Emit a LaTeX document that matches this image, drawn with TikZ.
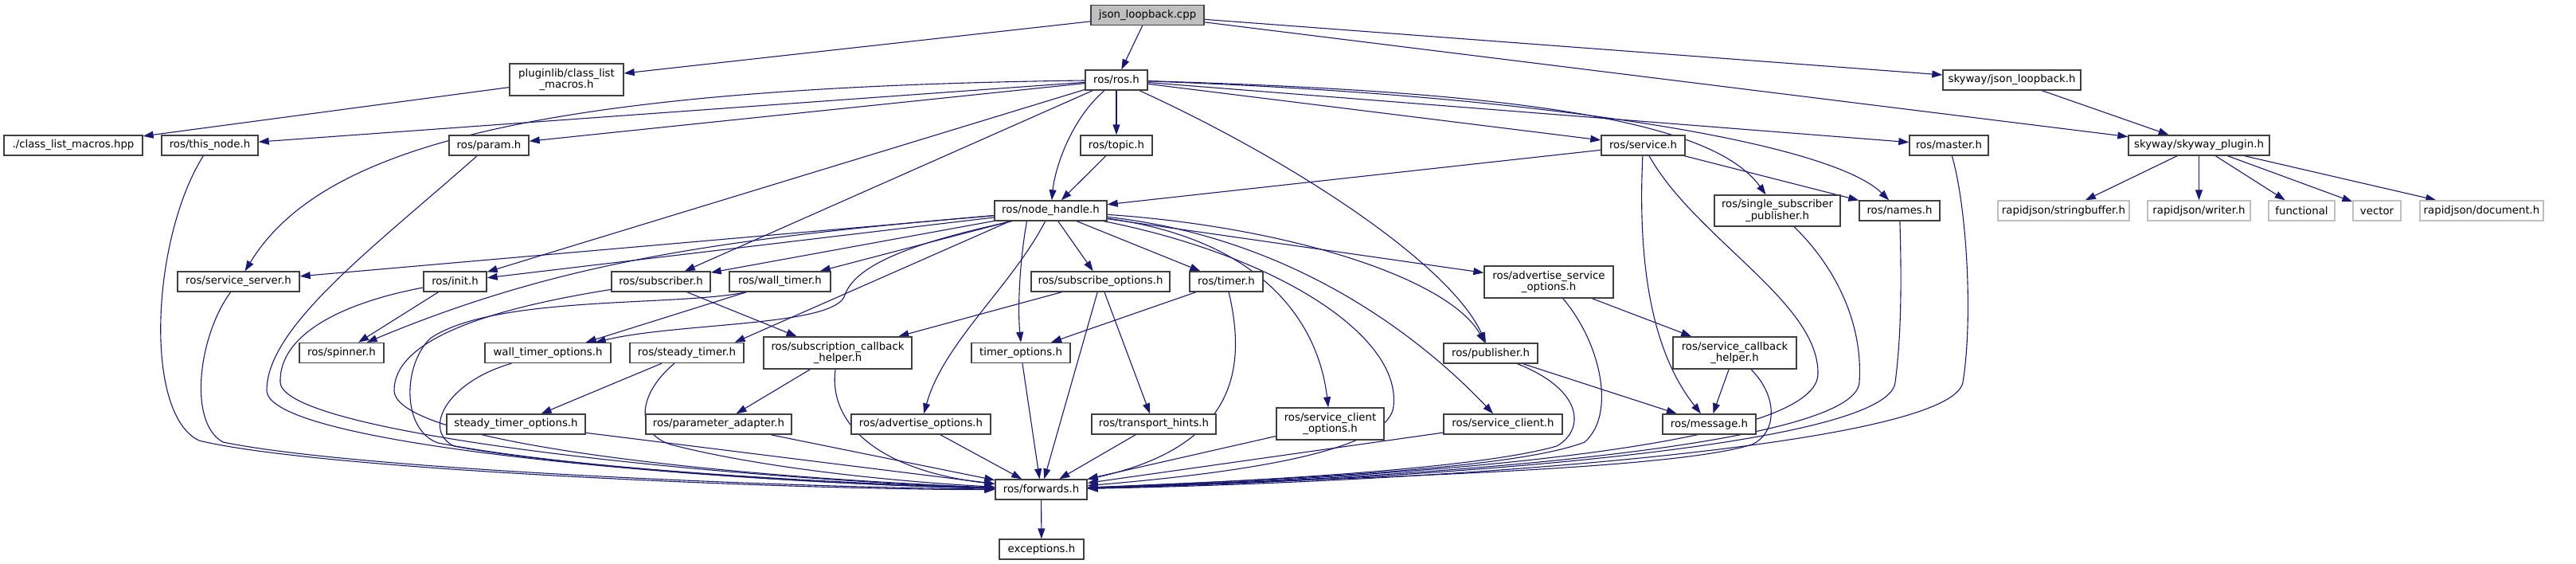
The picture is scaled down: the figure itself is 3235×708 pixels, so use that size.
\documentclass[tikz,border=0pt]{standalone}
\usepackage{fontspec}
\setmainfont{DejaVu Sans}
\usetikzlibrary{arrows.meta}
\definecolor{edgeblue}{HTML}{191970}
\definecolor{bordergrey}{HTML}{404040}
\definecolor{rootfill}{HTML}{BFBFBF}
\definecolor{extgrey}{HTML}{BFBFBF}
\pgfdeclarelayer{bg}
\pgfsetlayers{bg,main}
\begin{document}
\begin{tikzpicture}[x=1pt,y=-1pt,
  nbox/.style={draw=bordergrey, fill=white, line width=1.4pt, inner sep=0pt,
    font=\fontsize{13.3}{14.5}\selectfont, align=center, minimum height=25pt},
  nroot/.style={nbox, fill=rootfill},
  nextl/.style={nbox, draw=extgrey},
  dep/.style={draw=edgeblue, line width=1.1pt, -{Triangle[length=13pt,width=9pt]}}
]
\useasboundingbox (0,0) rectangle (3235,708);

\node[nroot, minimum width=142pt] (cpp) at (1441,19) {json\_loopback.cpp};
\node[nbox, minimum width=143pt, minimum height=40pt] (plg) at (711.5,100) {pluginlib/class\_list\\\_macros.h};
\node[nbox, minimum width=78pt] (rosh) at (1402,100.5) {ros/ros.h};
\node[nbox, minimum width=173pt] (sjl) at (2526.5,100.5) {skyway/json\_loopback.h};
\node[nbox, minimum width=174pt] (clm) at (92,182.5) {./class\_list\_macros.hpp};
\node[nbox, minimum width=121pt] (thisn) at (263.5,182.5) {ros/this\_node.h};
\node[nbox, minimum width=100pt] (param) at (614,182.5) {ros/param.h};
\node[nbox, minimum width=90pt] (topic) at (1402,182.5) {ros/topic.h};
\node[nbox, minimum width=105pt] (service) at (2063.5,182.5) {ros/service.h};
\node[nbox, minimum width=99pt] (master) at (2447.5,182.5) {ros/master.h};
\node[nbox, minimum width=177pt] (sp) at (2761.5,182.5) {skyway/skyway\_plugin.h};
\node[nbox, minimum width=141pt] (nh) at (1319.5,264.5) {ros/node\_handle.h};
\node[nbox, minimum width=158pt, minimum height=39pt] (ssp) at (2232,264.5) {ros/single\_subscriber\\\_publisher.h};
\node[nbox, minimum width=101pt] (names) at (2385.5,264.5) {ros/names.h};
\node[nextl, minimum width=165pt] (rjsb) at (2591.5,264.5) {rapidjson/stringbuffer.h};
\node[nextl, minimum width=129pt] (rjw) at (2761.5,264.5) {rapidjson/writer.h};
\node[nextl, minimum width=83pt] (func) at (2890.5,264.5) {functional};
\node[nextl, minimum width=60pt] (vec) at (2985,264.5) {vector};
\node[nextl, minimum width=155pt] (rjdoc) at (3116.5,264.5) {rapidjson/document.h};
\node[nbox, minimum width=153pt] (ss) at (299.5,353.5) {ros/service\_server.h};
\node[nbox, minimum width=79pt] (init) at (571.5,353.5) {ros/init.h};
\node[nbox, minimum width=124pt] (sub) at (830,353.5) {ros/subscriber.h};
\node[nbox, minimum width=127pt] (wt) at (979.5,353.5) {ros/wall\_timer.h};
\node[nbox, minimum width=174pt] (so) at (1382,353.5) {ros/subscribe\_options.h};
\node[nbox, minimum width=92pt] (timer) at (1540,353.5) {ros/timer.h};
\node[nbox, minimum width=162pt, minimum height=40pt] (aso) at (1945,354) {ros/advertise\_service\\\_options.h};
\node[nbox, minimum width=106pt] (spin) at (429,443) {ros/spinner.h};
\node[nbox, minimum width=158pt] (wto) at (688,443) {wall\_timer\_options.h};
\node[nbox, minimum width=143pt] (st) at (862.5,443) {ros/steady\_timer.h};
\node[nbox, minimum width=186pt, minimum height=40pt] (sch) at (1052,443) {ros/subscription\_callback\\\_helper.h};
\node[nbox, minimum width=124pt] (tmo) at (1282,443) {timer\_options.h};
\node[nbox, minimum width=118pt] (pub) at (1872,443.5) {ros/publisher.h};
\node[nbox, minimum width=155pt, minimum height=40pt] (sech) at (2178.5,443) {ros/service\_callback\\\_helper.h};
\node[nbox, minimum width=174pt] (sto) at (648,532.5) {steady\_timer\_options.h};
\node[nbox, minimum width=183pt] (pa) at (902.5,532.5) {ros/parameter\_adapter.h};
\node[nbox, minimum width=175pt] (ao) at (1156.5,532.5) {ros/advertise\_options.h};
\node[nbox, minimum width=156pt] (th) at (1449,532.5) {ros/transport\_hints.h};
\node[nbox, minimum width=135pt, minimum height=40pt] (sco) at (1670.5,532) {ros/service\_client\\\_options.h};
\node[nbox, minimum width=149pt] (sc) at (1887.5,532.5) {ros/service\_client.h};
\node[nbox, minimum width=117pt] (msg) at (2146.5,532.5) {ros/message.h};
\node[nbox, minimum width=115pt] (fwd) at (1307.5,614.5) {ros/forwards.h};
\node[nbox, minimum width=106pt] (exc) at (1308,689.5) {exceptions.h};

\begin{pgfonlayer}{bg}
% top level
\draw[dep] (cpp) -- (plg);
\draw[dep] (cpp) -- (rosh);
\draw[dep] (cpp) -- (sjl);
\draw[dep] (cpp) -- (sp);
\draw[dep] (plg) -- (clm);
\draw[dep] (sjl) -- (sp);
\draw[dep] (sp) -- (rjsb);
\draw[dep] (sp) -- (rjw);
\draw[dep] (sp) -- (func);
\draw[dep] (sp) -- (vec);
\draw[dep] (sp) -- (rjdoc);
% ros.h
\draw[dep] (rosh) -- (thisn);
\draw[dep] (rosh) .. controls (650,110) and (400,190) .. (ss);
\draw[dep] (rosh) -- (param);
\draw[dep] (rosh) -- (init);
\draw[dep] (rosh) -- (sub);
\draw[dep] (rosh) -- (topic);
\draw[dep] (rosh) .. controls (1345,150) and (1325,210) .. (nh);
\draw[dep] (rosh) -- (service);
\draw[dep] (rosh) -- (master);
\draw[dep] (rosh) .. controls (1900,115) and (2150,150) .. (ssp);
\draw[dep] (rosh) .. controls (1950,120) and (2300,180) .. (names);
\draw[dep] (rosh) .. controls (1620,200) and (1820,330) .. (pub);
% topic, service, master, names, ssp
\draw[dep] (topic) -- (nh);
\draw[dep] (service) -- (nh);
\draw[dep] (service) -- (names);
\draw[dep] (service) .. controls (2058,300) and (2065,430) .. (msg);
\draw[dep] (service) .. controls (2130,300) and (2285,380) .. (2283,470) .. controls (2280,560) and (1800,598) .. (fwd);
\draw[dep] (master) .. controls (2470,260) and (2478,400) .. (2465,480) .. controls (2450,560) and (1800,605) .. (fwd);
\draw[dep] (names) .. controls (2388,350) and (2388,420) .. (2380,480) .. controls (2372,560) and (1800,602) .. (fwd);
\draw[dep] (ssp) .. controls (2300,330) and (2340,400) .. (2335,480) .. controls (2330,560) and (1800,600) .. (fwd);
% service callback helper, advertise service options, publisher
\draw[dep] (sech) -- (msg);
\draw[dep] (sech) .. controls (2235,500) and (2230,545) .. (2200,558) .. controls (2100,590) and (1700,600) .. (fwd);
\draw[dep] (aso) -- (sech);
\draw[dep] (aso) .. controls (2010,430) and (2030,520) .. (1990,555) .. controls (1900,590) and (1600,602) .. (fwd);
\draw[dep] (pub) -- (msg);
\draw[dep] (pub) .. controls (1990,490) and (1990,540) .. (1955,560) .. controls (1850,590) and (1550,605) .. (fwd);
\draw[dep] (sc) -- (fwd);
\draw[dep] (sco) -- (fwd);
% timer, subscribe options
\draw[dep] (timer) -- (tmo);
\draw[dep] (timer) .. controls (1565,460) and (1555,560) .. (fwd);
\draw[dep] (so) -- (sch);
\draw[dep] (so) -- (th);
\draw[dep] (so) -- (fwd);
\draw[dep] (th) -- (fwd);
\draw[dep] (tmo) -- (fwd);
\draw[dep] (ao) -- (fwd);
\draw[dep] (pa) -- (fwd);
\draw[dep] (sch) -- (pa);
\draw[dep] (sch) .. controls (1040,530) and (1100,590) .. (fwd);
\draw[dep] (sto) -- (fwd);
\draw[dep] (st) -- (sto);
\draw[dep] (st) .. controls (795,500) and (800,550) .. (850,560) .. controls (950,585) and (1100,603) .. (fwd);
\draw[dep] (wto) .. controls (560,480) and (530,540) .. (570,560) .. controls (700,585) and (1000,605) .. (fwd);
\draw[dep] ([xshift=22pt]wt.south west) -- ([xshift=-32pt]wto.north east);
\draw[dep] ([xshift=22pt]wt.south west) .. controls (850,385) and (620,370) .. (540,425) .. controls (505,460) and (505,540) .. (550,556) .. controls (700,585) and (1000,607) .. (fwd);
\draw[dep] (sub) -- (sch);
\draw[dep] (sub) .. controls (600,390) and (495,430) .. (495,490) .. controls (495,555) and (900,598) .. (fwd);
\draw[dep] (init) -- (spin);
\draw[dep] (init) .. controls (430,380) and (350,420) .. (352,480) .. controls (355,545) and (900,600) .. (fwd);
\draw[dep] (param) .. controls (470,310) and (335,410) .. (335,490) .. controls (335,560) and (900,605) .. (fwd);
\draw[dep] (ss) .. controls (250,420) and (235,530) .. (280,555) .. controls (450,590) and (1000,612) .. (fwd);
\draw[dep] (thisn) .. controls (190,300) and (180,520) .. (250,553) .. controls (400,590) and (1000,615) .. (fwd);
% node_handle.h
\draw[dep] (nh) -- (ss);
\draw[dep] (nh) -- (init);
\draw[dep] (nh) .. controls (900,300) and (700,330) .. (spin);
\draw[dep] (nh) -- (sub);
\draw[dep] (nh) -- (wt);
\draw[dep] ([xshift=20pt]nh.south west) -- ([xshift=-12pt]st.north east);
\draw[dep] ([xshift=23pt]nh.south west) .. controls (1120,310) and (1070,340) .. (1060,373) .. controls (1040,410) and (850,405) .. ([xshift=-20pt]wto.north east);
\draw[dep] (nh) .. controls (1270,360) and (1185,430) .. (ao);
\draw[dep] ([xshift=-30pt]nh.south) .. controls (1280,330) and (1278,390) .. (tmo.north);
\draw[dep] (nh) -- (so);
\draw[dep] (nh) -- (timer);
\draw[dep] (nh) -- (aso);
\draw[dep] (nh) .. controls (1620,285) and (1820,350) .. (pub);
\draw[dep] (nh) .. controls (1640,300) and (1800,440) .. (sc);
\draw[dep] (nh) .. controls (1580,300) and (1655,400) .. (sco);
\draw[dep] (nh) .. controls (1600,320) and (1760,420) .. (1750,510) .. controls (1745,560) and (1600,590) .. (fwd);
% forwards
\draw[dep] (fwd) -- (exc);
\end{pgfonlayer}
\end{tikzpicture}
\end{document}
